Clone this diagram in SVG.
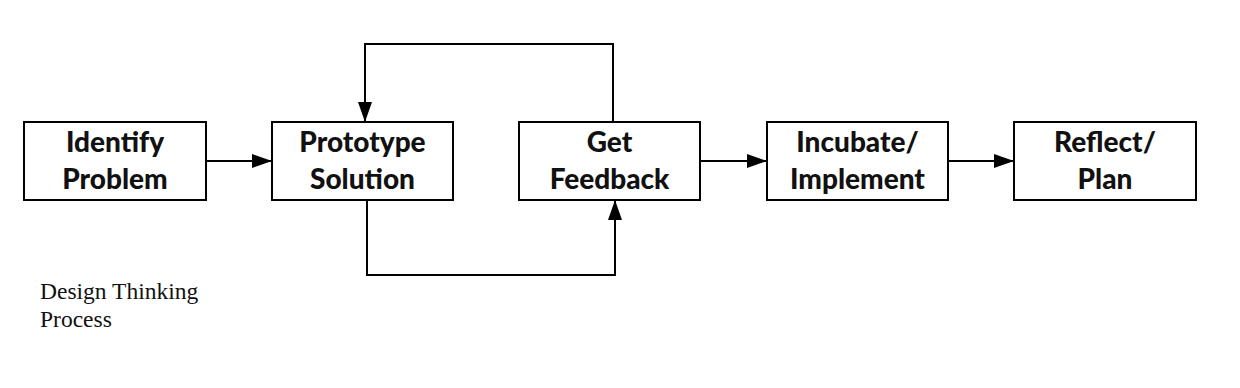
<svg xmlns="http://www.w3.org/2000/svg" width="1240" height="388" viewBox="0 0 1240 388">
<style>
.box{fill:#fff;stroke:#000;stroke-width:2}
.lbl{font-family:Lato,"Open Sans",sans-serif;font-weight:900;font-size:28px;fill:#111;text-anchor:middle}
.con{fill:none;stroke:#000;stroke-width:2}
.cap{font-family:"Liberation Serif",serif;font-size:23.5px;fill:#111}
</style>
<defs>
<marker id="ah" viewBox="0 0 20 14" refX="20" refY="7" markerWidth="20" markerHeight="14" markerUnits="userSpaceOnUse" orient="auto">
<path d="M0,0 L20,7 L0,14 Z" fill="#000"/>
</marker>
</defs>
<rect width="1240" height="388" fill="#fff"/>
<g id="connectors">
<path class="con" d="M206,161 H272" marker-end="url(#ah)"/>
<path class="con" d="M613,122 V44 H365 V122" marker-end="url(#ah)"/>
<path class="con" d="M367,200 V275 H615 V200" marker-end="url(#ah)"/>
<path class="con" d="M700,161 H767" marker-end="url(#ah)"/>
<path class="con" d="M948,161 H1014" marker-end="url(#ah)"/>
</g>
<g id="identify">
<rect class="box" x="24" y="122" width="182" height="78"/>
<text class="lbl" x="115" y="152">Identify</text>
<text class="lbl" x="115" y="189">Problem</text>
</g>
<g id="prototype">
<rect class="box" x="272" y="122" width="181" height="78"/>
<text class="lbl" x="362.5" y="152">Prototype</text>
<text class="lbl" x="362.5" y="189">Solution</text>
</g>
<g id="feedback">
<rect class="box" x="519" y="122" width="181" height="78"/>
<text class="lbl" x="609.5" y="152">Get</text>
<text class="lbl" x="609.5" y="189">Feedback</text>
</g>
<g id="incubate">
<rect class="box" x="767" y="122" width="181" height="78"/>
<text class="lbl" x="857.5" y="152">Incubate/</text>
<text class="lbl" x="857.5" y="189">Implement</text>
</g>
<g id="reflect">
<rect class="box" x="1014" y="122" width="182" height="78"/>
<text class="lbl" x="1105" y="152">Reflect/</text>
<text class="lbl" x="1105" y="189">Plan</text>
</g>
<g id="caption">
<text class="cap" x="40" y="299">Design Thinking</text>
<text class="cap" x="40" y="327">Process</text>
</g>
</svg>
